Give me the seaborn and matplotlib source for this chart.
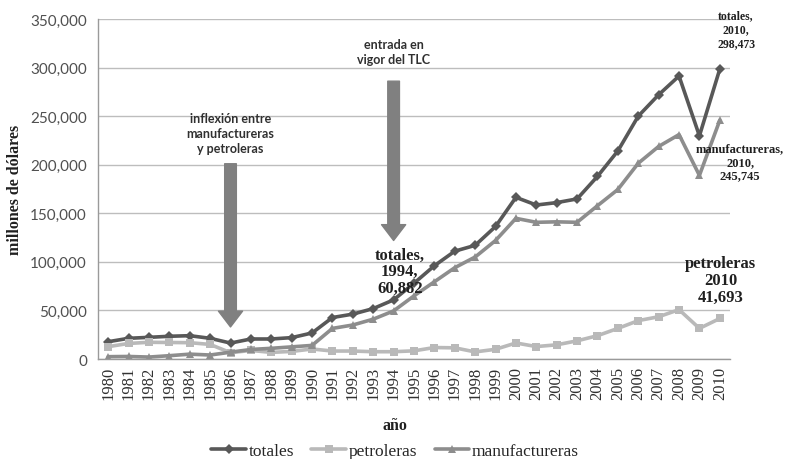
import matplotlib
matplotlib.use("Agg")
import matplotlib.pyplot as plt
from matplotlib.lines import Line2D
from matplotlib.ticker import FixedLocator, FuncFormatter
import pandas as pd
import seaborn as sns

# Exportaciones de México, millones de dólares
anios = list(range(1980, 2011))
totales = [17800, 21300, 22300, 23400, 24000, 21300, 16400, 20600, 20600, 22000,
           26800, 42700, 46200, 51900, 60882, 78000, 96000, 111000, 117000, 136400,
           166400, 158500, 161000, 164800, 188000, 214200, 250000, 272000, 291300,
           229700, 298473]
petroleras = [12700, 16000, 17200, 17000, 16800, 15000, 6500, 8800, 6800, 7800,
              10300, 8200, 8200, 7500, 7500, 8400, 11800, 11500, 7300, 10000,
              16500, 12800, 14600, 18700, 24000, 31500, 39500, 43500, 50800,
              31500, 41693]
manufactureras = [2400, 2600, 2000, 3400, 5000, 4100, 7000, 9800, 11000, 12500,
                  14000, 31500, 35000, 41000, 49500, 65000, 79500, 94000, 105000,
                  122000, 144800, 140700, 141200, 140700, 157800, 174500, 201500,
                  218800, 231000, 189000, 245745]
series = ["totales", "petroleras", "manufactureras"]
y_ticks = [0, 50000, 100000, 150000, 200000, 250000, 300000, 350000]

colores = {"totales": "#585858", "petroleras": "#b9b9b9", "manufactureras": "#8d8d8d"}
marcadores = {"totales": "D", "petroleras": "s", "manufactureras": "^"}

sns.set_theme(style="white")
plt.rcParams["font.family"] = ["Liberation Serif", "DejaVu Serif"]

df = pd.DataFrame({
    "pos": range(len(anios)),
    "totales": totales,
    "petroleras": petroleras,
    "manufactureras": manufactureras,
}).melt(id_vars="pos", var_name="serie", value_name="valor")

fig = plt.figure(figsize=(7.85, 4.6), dpi=100)
ax = fig.add_axes([98 / 785, 1 - 360 / 460, (730 - 98) / 785, 340 / 460])

sns.lineplot(data=df, x="pos", y="valor", hue="serie", style="serie",
             hue_order=series, style_order=series, palette=colores,
             markers=marcadores, dashes=False, linewidth=2.6, markersize=5.5,
             markeredgewidth=0, ax=ax, legend=False)

ax.set_xlim(-0.5, len(anios) - 0.5)
ax.set_ylim(0, 350000)

# eje y
ax.yaxis.set_major_locator(FixedLocator(y_ticks))
ax.yaxis.set_major_formatter(FuncFormatter(lambda v, p: f"{v:,.0f}"))
ax.yaxis.grid(True, color="#bdbdbd", linewidth=1)
ax.set_axisbelow(True)
ax.tick_params(axis="y", which="major", length=4, width=1, color="#9a9a9a",
               labelsize=11, labelcolor="#505050", pad=4)
for lab in ax.get_yticklabels():
    lab.set_fontfamily(["Lato", "DejaVu Sans"])

# eje x por categorías, marcas entre años
ax.set_xticks(range(len(anios)))
ax.set_xticklabels([str(a) for a in anios], rotation=90, fontsize=12,
                   color="#303030")
ax.set_xticks([i - 0.5 for i in range(len(anios) + 1)], minor=True)
ax.tick_params(axis="x", which="major", length=0, pad=5)
ax.tick_params(axis="x", which="minor", length=5, width=1, color="#9a9a9a")

for s in ["top", "right"]:
    ax.spines[s].set_visible(False)
for s in ["left", "bottom"]:
    ax.spines[s].set_color("#9a9a9a")
    ax.spines[s].set_linewidth(1)

ax.set_xlabel("año", fontsize=11.5, fontweight="bold", color="#202020")
ax.xaxis.set_label_coords((395 - 98) / 632, (360 - 426) / 340)
ax.xaxis.label.set_va("center")
ax.set_ylabel("millones de dólares", fontsize=11.5, fontweight="bold",
              color="#202020")
ax.yaxis.set_label_coords((15 - 98) / 632, 0.5)
ax.yaxis.label.set_va("center")

# flechas de eventos
flecha = dict(arrowstyle="simple,head_length=0.95,head_width=1.45,tail_width=0.7",
              color="#808080", shrinkA=0, shrinkB=0)
ax.annotate("", xy=(6, 33000), xytext=(6, 201000), arrowprops=flecha)
ax.annotate("", xy=(14, 122000), xytext=(14, 286000), arrowprops=flecha)

sans = ["Lato", "DejaVu Sans"]
ax.text(6, 232500, "inflexión entre\nmanufactureras\ny petroleras",
        ha="center", va="center", fontsize=9, fontweight="bold",
        family=sans, color="#303030", linespacing=1.3)
ax.text(14, 317000, "entrada en\nvigor del TLC", ha="center", va="center",
        fontsize=9, fontweight="bold", family=sans, color="#303030",
        linespacing=1.3)

# etiquetas de valores
ax.text(14.3, 90600, f"totales,\n1994,\n{totales[14]:,}", ha="center",
        va="center", fontsize=12, fontweight="bold", color="#202020",
        linespacing=1.05)
ax.text(30.8, 339700, f"totales,\n2010,\n{totales[-1]:,}", ha="center",
        va="center", fontsize=8.5, fontweight="bold", color="#202020",
        linespacing=1.2)
ax.text(31.0, 202800, f"manufactureras,\n2010,\n{manufactureras[-1]:,}",
        ha="center", va="center", fontsize=9, fontweight="bold",
        color="#202020", linespacing=1.15)
ax.text(30.05, 81300, f"petroleras\n2010\n{petroleras[-1]:,}", ha="center",
        va="center", fontsize=12, fontweight="bold", color="#202020",
        linespacing=1.05)

handles = [Line2D([], [], color=colores[s], marker=marcadores[s], lw=2.6,
                  markersize=5.5, markeredgewidth=0) for s in series]
fig.legend(handles, series, loc="center", bbox_to_anchor=(395 / 785, 1 - 452 / 460),
           ncol=3, frameon=False, fontsize=12.5, handlelength=2.0,
           columnspacing=1.0, handletextpad=0.15)

fig.savefig("out.png", dpi=100)
